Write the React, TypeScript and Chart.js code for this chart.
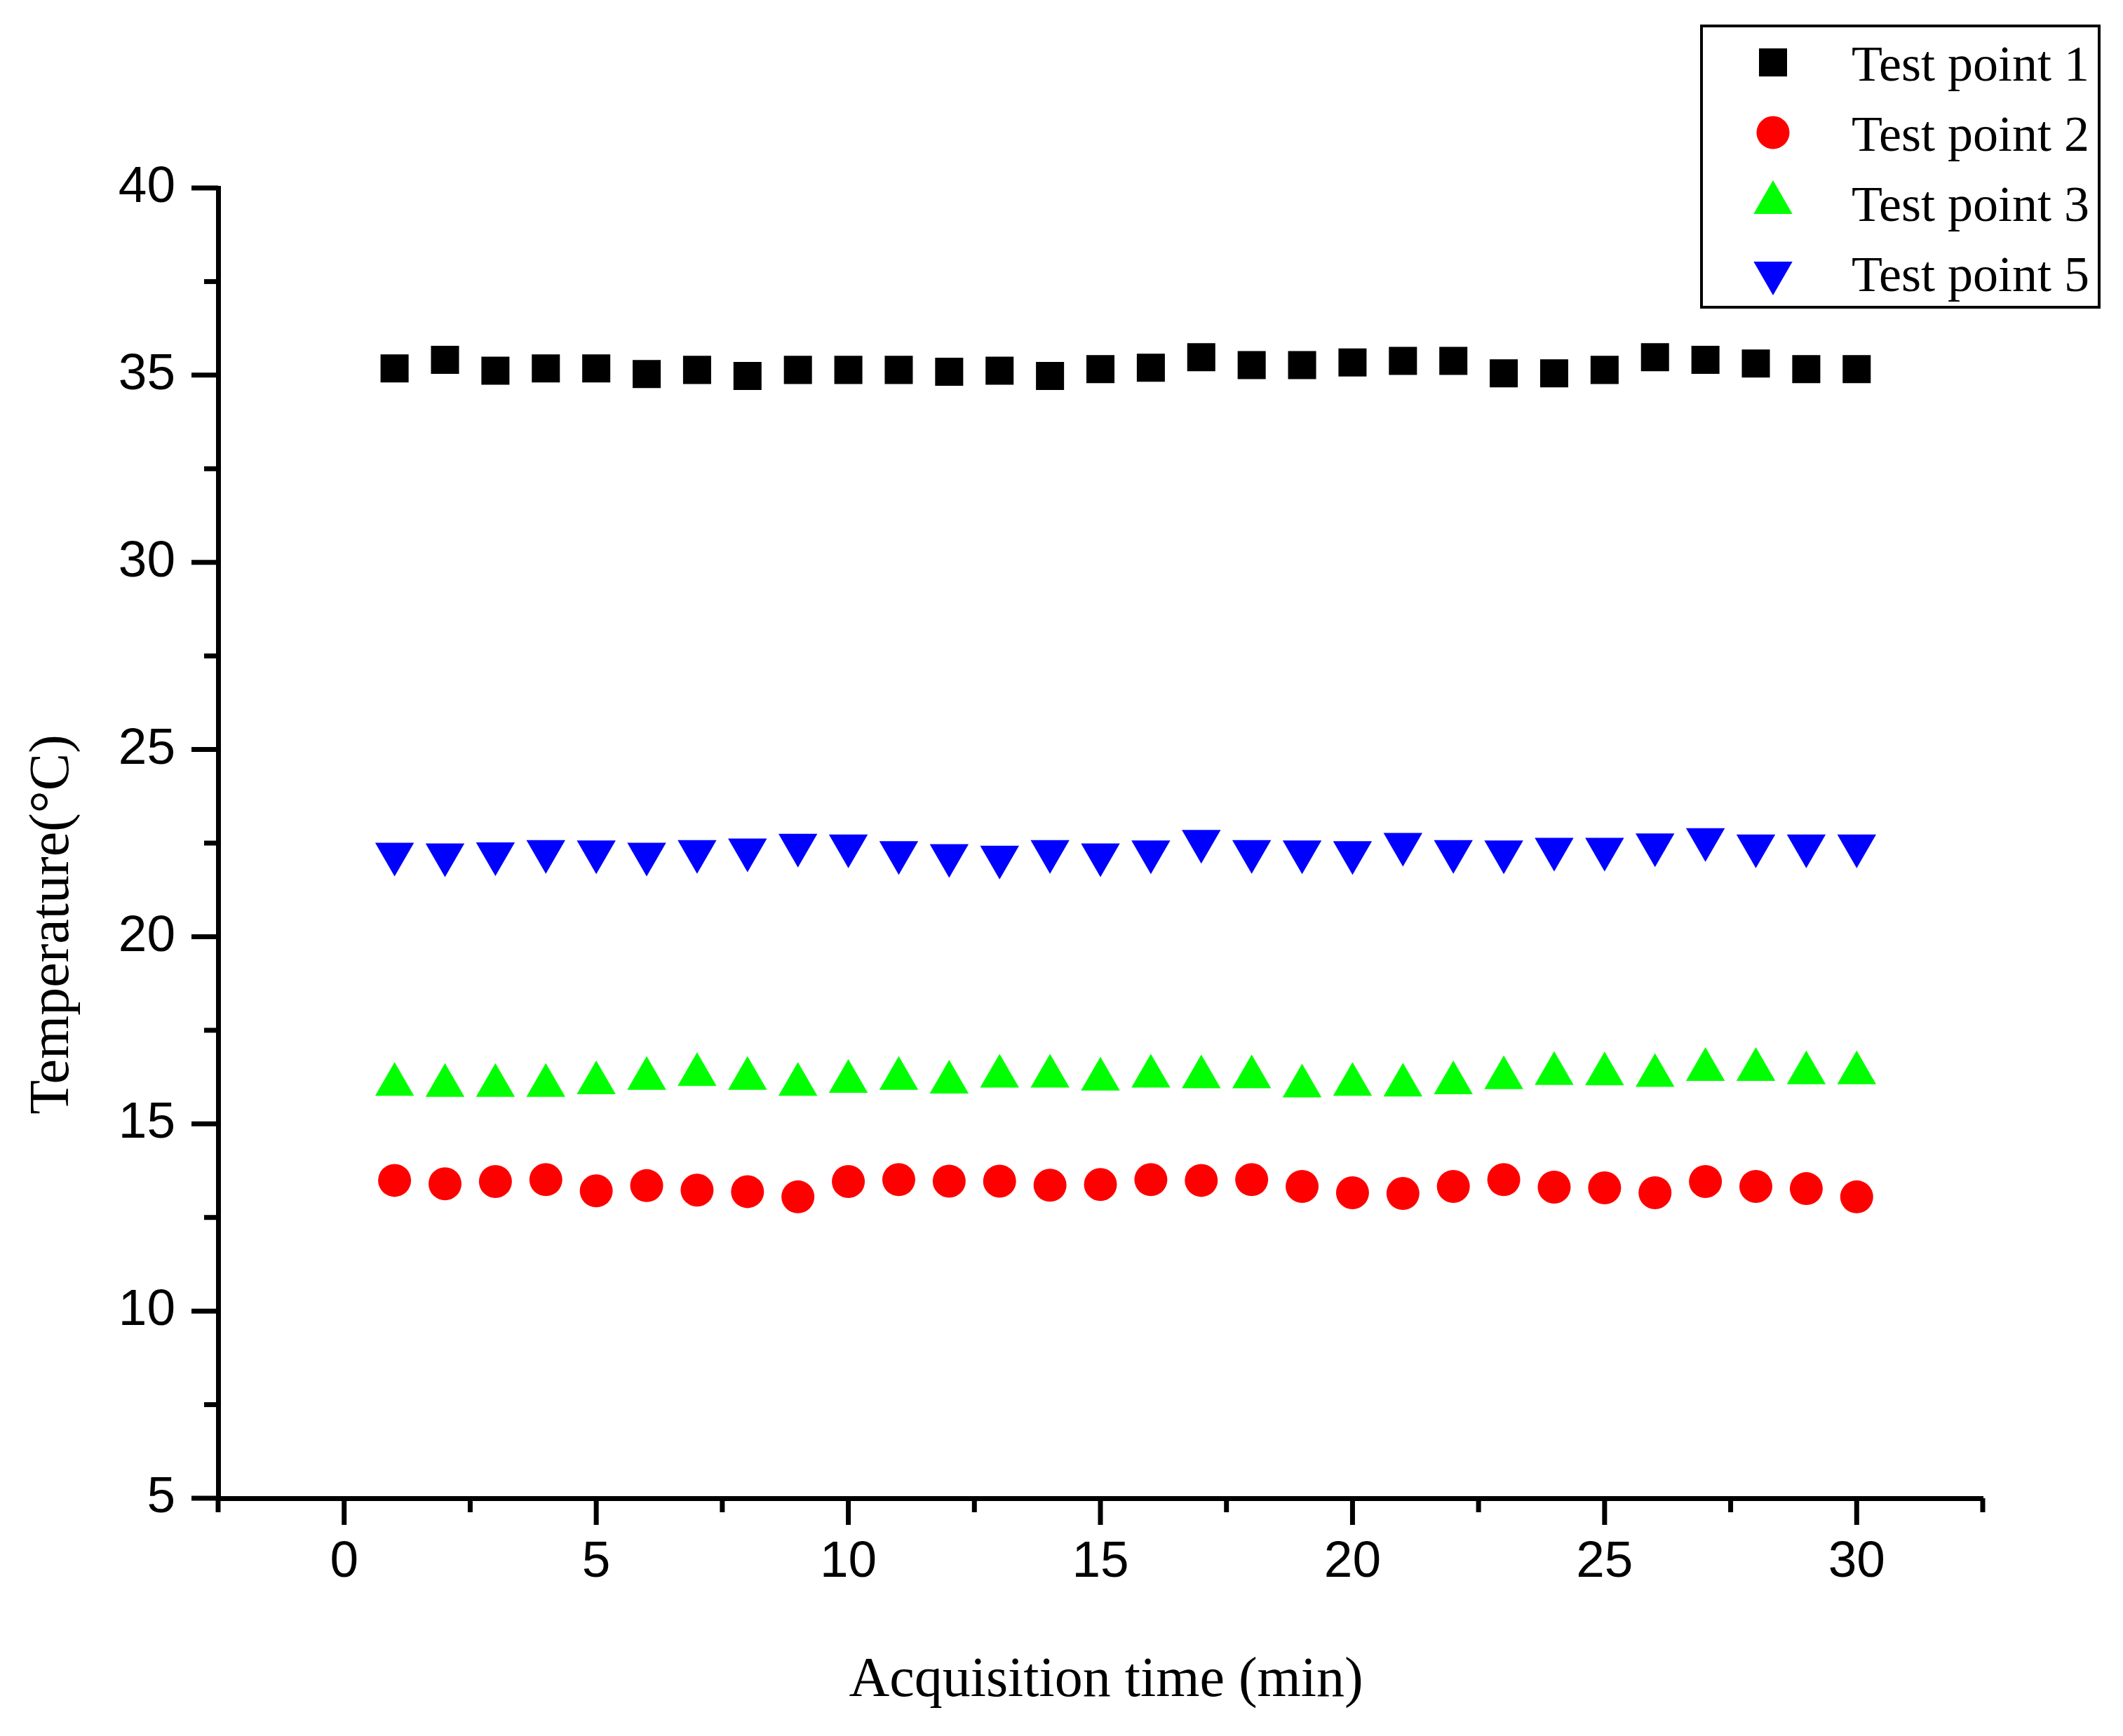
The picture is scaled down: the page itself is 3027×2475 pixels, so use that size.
import React, { useEffect, useRef } from "react";
import { Chart, ChartConfiguration, registerables } from "chart.js";

Chart.register(...registerables);

// acquisition time, minutes
const times = [1, 2, 3, 4, 5, 6, 7, 8, 9, 10, 11, 12, 13, 14, 15, 16, 17, 18, 19, 20, 21, 22, 23, 24, 25, 26, 27, 28, 29, 30];

const point1 = [35.18, 35.41, 35.12, 35.18, 35.18, 35.03, 35.14, 34.98, 35.14, 35.14, 35.14, 35.09, 35.12, 34.98, 35.16, 35.2, 35.48, 35.27, 35.27, 35.34, 35.38, 35.38, 35.05, 35.05, 35.14, 35.48, 35.41, 35.31, 35.16, 35.16];
const point2 = [13.49, 13.4, 13.46, 13.51, 13.21, 13.35, 13.23, 13.19, 13.05, 13.46, 13.51, 13.47, 13.47, 13.36, 13.38, 13.51, 13.49, 13.51, 13.33, 13.16, 13.14, 13.33, 13.51, 13.31, 13.29, 13.16, 13.46, 13.33, 13.27, 13.05];
const point3 = [16.05, 16.02, 16.02, 16.02, 16.09, 16.21, 16.31, 16.21, 16.05, 16.13, 16.21, 16.11, 16.27, 16.27, 16.19, 16.27, 16.25, 16.25, 16.01, 16.05, 16.03, 16.09, 16.23, 16.34, 16.33, 16.29, 16.45, 16.45, 16.36, 16.36];
const point5 = [22.21, 22.19, 22.22, 22.28, 22.27, 22.21, 22.28, 22.32, 22.45, 22.43, 22.25, 22.17, 22.13, 22.28, 22.19, 22.27, 22.55, 22.28, 22.27, 22.25, 22.47, 22.28, 22.27, 22.34, 22.34, 22.46, 22.6, 22.43, 22.43, 22.43];

const seriesLabels = ["Test point 1", "Test point 2", "Test point 3", "Test point 5"];
const xTickLabels = [0, 5, 10, 15, 20, 25, 30];
const yTickLabels = [5, 10, 15, 20, 25, 30, 35, 40];

const W = 3027;
const H = 2475;

function drawMarker(ctx: CanvasRenderingContext2D, style: string, rotation: number, r: number, x: number, y: number, color: string) {
	ctx.save();
	ctx.fillStyle = color;
	ctx.beginPath();
	if (style === "rect") {
		const s = r * Math.SQRT1_2;
		ctx.rect(x - s, y - s, 2 * s, 2 * s);
	} else if (style === "circle") {
		ctx.arc(x, y, r, 0, Math.PI * 2);
	} else {
		let rad = (rotation * Math.PI) / 180;
		for (let i = 0; i < 3; i++) {
			const px = x + Math.sin(rad) * r;
			const py = y - Math.cos(rad) * r;
			if (i === 0) ctx.moveTo(px, py);
			else ctx.lineTo(px, py);
			rad += (2 * Math.PI) / 3;
		}
		ctx.closePath();
	}
	ctx.fill();
	ctx.restore();
}

const originPlugin = {
	id: "originLook",
	afterDraw(chart: any) {
		const { ctx, chartArea, scales } = chart;
		ctx.save();
		ctx.strokeStyle = "#000";
		ctx.lineWidth = 7;

		// tick marks, major every 5, minor in between
		scales.y.ticks.forEach((t: any) => {
			const py = scales.y.getPixelForValue(t.value);
			const len = t.value % 5 === 0 ? 38 : 20;
			ctx.beginPath();
			ctx.moveTo(chartArea.left, py);
			ctx.lineTo(chartArea.left - len, py);
			ctx.stroke();
		});
		scales.x.ticks.forEach((t: any) => {
			const px = scales.x.getPixelForValue(t.value);
			const len = t.value % 5 === 0 ? 38 : 20;
			ctx.beginPath();
			ctx.moveTo(px, chartArea.bottom);
			ctx.lineTo(px, chartArea.bottom + len);
			ctx.stroke();
		});

		// axis titles
		ctx.fillStyle = "#000";
		ctx.font = "80px 'Liberation Serif'";
		ctx.textAlign = "center";
		ctx.textBaseline = "alphabetic";
		ctx.fillText("Acquisition time (min)", (chartArea.left + chartArea.right) / 2 + 8, chartArea.bottom + 282);
		ctx.save();
		ctx.translate(97, 1318);
		ctx.rotate(-Math.PI / 2);
		ctx.fillText("Temperature(°C)", 0, 0);
		ctx.restore();

		// legend box
		ctx.lineWidth = 4;
		ctx.strokeRect(2426, 37, 567, 401);
		ctx.font = "72px 'Liberation Serif'";
		ctx.textAlign = "left";
		chart.data.datasets.forEach((ds: any, i: number) => {
			const cy = 89 + i * 100;
			drawMarker(ctx, ds.pointStyle, ds.pointRotation || 0, ds.pointRadius, 2528, cy, ds.backgroundColor);
			ctx.fillStyle = "#000";
			ctx.fillText(ds.label, 2640, cy + 26);
		});
		ctx.restore();
	},
};

const App: React.FC = () => {
	const canvasRef = useRef<HTMLCanvasElement | null>(null);
	const chart = useRef<Chart | null>(null);

	useEffect(() => {
		document.body.style.margin = "0";
		const ctx = canvasRef.current?.getContext("2d");
		if (!ctx) return;

		const mk = (values: number[]) => times.map((t, i) => ({ x: t, y: values[i] }));
		const tickFont = { family: "'Liberation Sans', Arial, sans-serif", size: 73, lineHeight: 1.2 };

		const config = {
			type: "scatter",
			data: {
				datasets: [
					{ label: seriesLabels[0], data: mk(point1), pointStyle: "rect", pointRadius: 28.3, backgroundColor: "#000000", borderColor: "#000000", pointBorderWidth: 0 },
					{ label: seriesLabels[1], data: mk(point2), pointStyle: "circle", pointRadius: 23.5, backgroundColor: "#ff0000", borderColor: "#ff0000", pointBorderWidth: 0 },
					{ label: seriesLabels[2], data: mk(point3), pointStyle: "triangle", pointRadius: 32, backgroundColor: "#00ff00", borderColor: "#00ff00", pointBorderWidth: 0 },
					{ label: seriesLabels[3], data: mk(point5), pointStyle: "triangle", pointRotation: 180, pointRadius: 32, backgroundColor: "#0000ff", borderColor: "#0000ff", pointBorderWidth: 0 },
				],
			},
			options: {
				responsive: false,
				animation: false,
				devicePixelRatio: 1,
				layout: { padding: { top: 268, right: 200, left: 0, bottom: 0 } },
				plugins: { legend: { display: false }, tooltip: { enabled: false } },
				scales: {
					x: {
						type: "linear",
						min: -2.5,
						max: 32.5,
						afterFit: (s: any) => {
							s.height = 339;
						},
						grid: { display: true, drawOnChartArea: false, drawTicks: false },
						border: { display: true, color: "#000", width: 7 },
						ticks: {
							stepSize: 2.5,
							autoSkip: false,
							maxRotation: 0,
							padding: 48,
							color: "#000",
							font: tickFont,
							callback: (v: any) => (xTickLabels.includes(Number(v)) ? String(v) : ""),
						},
					},
					y: {
						type: "linear",
						min: 5,
						max: 40,
						afterFit: (s: any) => {
							s.width = 311;
						},
						grid: { display: true, drawOnChartArea: false, drawTicks: false },
						border: { display: true, color: "#000", width: 7 },
						ticks: {
							stepSize: 2.5,
							autoSkip: false,
							padding: 61,
							color: "#000",
							font: tickFont,
							callback: (v: any) => (yTickLabels.includes(Number(v)) ? String(v) : ""),
						},
					},
				},
			},
			plugins: [originPlugin],
		} as unknown as ChartConfiguration;

		chart.current = new Chart(ctx, config);

		return () => {
			if (chart.current) {
				chart.current.destroy();
				chart.current = null;
			}
		};
	}, []);

	return (
		<div style={{ width: W, height: H, background: "#fff" }}>
			<canvas ref={canvasRef} width={W} height={H} style={{ display: "block" }} />
		</div>
	);
};

export default App;
